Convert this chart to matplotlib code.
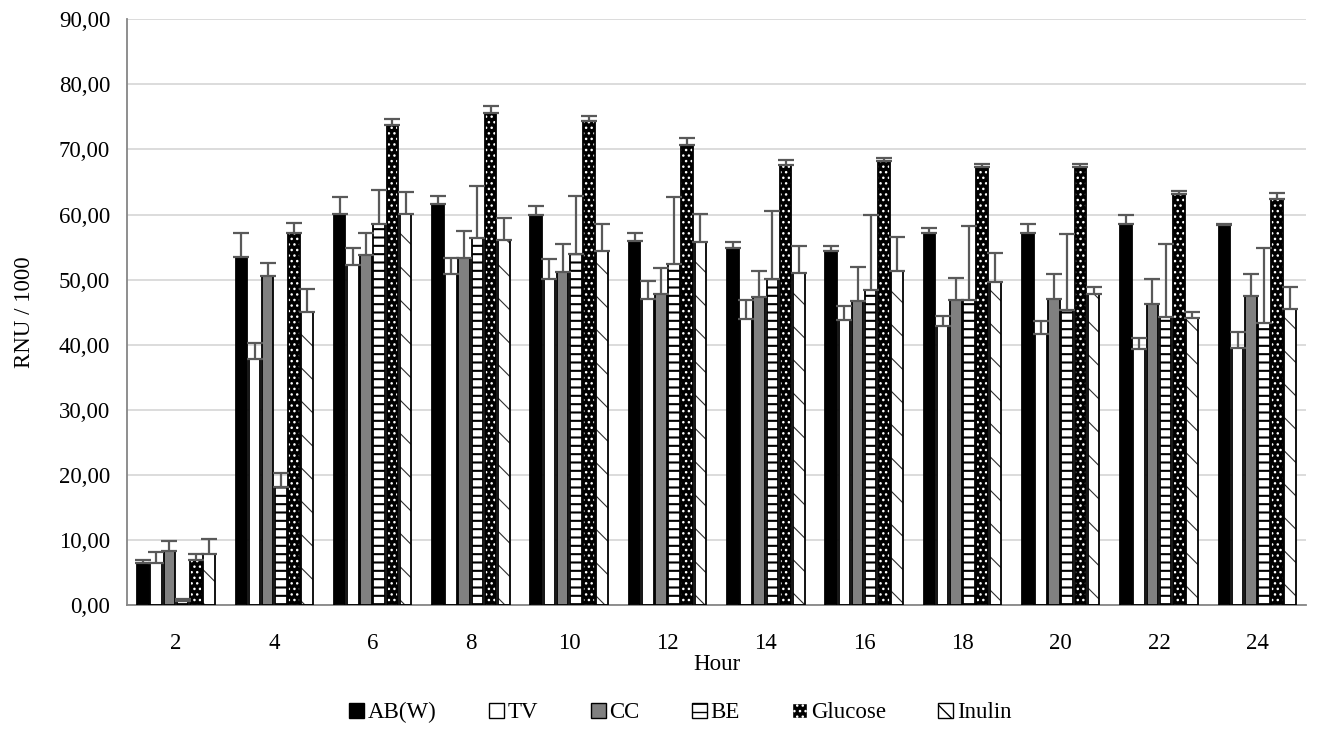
import matplotlib
matplotlib.use('Agg')
import matplotlib.pyplot as plt
import numpy as np
from matplotlib.patches import Patch

hours = [2, 4, 6, 8, 10, 12, 14, 16, 18, 20, 22, 24]
series = ['AB(W)', 'TV', 'CC', 'BE', 'Glucose', 'Inulin']

ab = [6.4, 53.5, 60.1, 61.6, 59.9, 55.9, 54.8, 54.4, 57.1, 57.2, 58.5, 58.4]
tv = [6.5, 37.8, 52.2, 50.9, 50.1, 47.0, 44.0, 43.8, 42.9, 41.6, 39.4, 39.5]
cc = [8.3, 50.6, 53.8, 53.3, 51.2, 47.8, 47.4, 46.7, 46.9, 47.0, 46.3, 47.5]
be = [0.6, 18.1, 58.6, 56.4, 53.9, 52.4, 50.1, 48.4, 46.8, 45.3, 44.2, 43.3]
glucose = [7.0, 57.1, 73.8, 75.6, 74.3, 70.7, 67.6, 68.2, 67.3, 67.3, 63.1, 62.4]
inulin = [7.9, 45.0, 60.1, 56.1, 54.4, 55.8, 51.0, 51.4, 49.7, 47.8, 44.1, 45.5]

ab_err = [0.5, 3.6, 2.6, 1.2, 1.4, 1.2, 1.0, 0.8, 0.8, 1.4, 1.5, 0.1]
tv_err = [1.7, 2.5, 2.7, 2.4, 3.0, 2.8, 2.8, 2.2, 1.5, 2.1, 1.6, 2.4]
cc_err = [1.5, 2.0, 3.4, 4.2, 4.3, 4.0, 4.0, 5.2, 3.3, 3.8, 3.8, 3.4]
be_err = [0.3, 2.2, 5.2, 8.0, 9.0, 10.3, 10.5, 11.6, 11.4, 11.7, 11.3, 11.5]
glucose_err = [0.8, 1.6, 0.8, 1.0, 0.8, 1.0, 0.8, 0.5, 0.4, 0.5, 0.5, 0.9]
inulin_err = [2.3, 3.5, 3.4, 3.4, 4.1, 4.3, 4.1, 5.1, 4.4, 1.0, 1.0, 3.4]

values = [ab, tv, cc, be, glucose, inulin]
errors = [ab_err, tv_err, cc_err, be_err, glucose_err, inulin_err]

# face, hatch, hatch colour, hatch linewidth
styles = [
    ('black', None, 'black', 1.0),
    ('white', None, 'black', 1.0),
    ('#808080', None, 'black', 1.0),
    ('white', '--', 'black', 1.5),
    ('black', '...', 'white', 1.0),
    ('white', '\\', '#303030', 0.8),
]

plt.rcParams['font.family'] = ['Liberation Serif', 'DejaVu Serif']

FS = 16.5

fig = plt.figure(figsize=(13.21, 7.38), dpi=100)
ax = fig.add_axes([0.096, 0.180, 0.893, 0.794])

x = np.arange(len(hours))
pitch = 0.134
width = 0.118
for i, (vals, errs, (face, hatch, hcol, hlw)) in enumerate(zip(values, errors, styles)):
    pos = x + (i - 2.5) * pitch
    ax.bar(pos, vals, width, color=face, edgecolor='none', zorder=2)
    if hatch is not None:
        with plt.rc_context({'hatch.linewidth': hlw}):
            hb = ax.bar(pos, vals, width, color='none', edgecolor=hcol, hatch=hatch,
                        linewidth=0, zorder=3)
        for p in hb:
            if hasattr(p, 'set_hatch_linewidth'):
                p.set_hatch_linewidth(hlw)
    ax.bar(pos, vals, width, color='none', edgecolor='black', linewidth=1.3, zorder=4)
    ax.errorbar(pos, vals, yerr=[np.zeros(len(errs)), errs], fmt='none',
                ecolor='#595959', elinewidth=1.6, capsize=6, capthick=1.6, zorder=5)

ax.set_ylim(0, 90)
ax.set_yticks(np.arange(0, 91, 10))
ax.set_yticklabels([f'{v:.2f}'.replace('.', ',') for v in np.arange(0, 91, 10)])
ax.set_xlim(-0.5, len(hours) - 0.5)
ax.set_xticks(x)
ax.set_xticklabels([str(h) for h in hours])
ax.tick_params(axis='y', labelsize=FS, length=0, pad=12)
ax.tick_params(axis='x', labelsize=FS, length=0, pad=20)
ax.grid(axis='y', color='#d9d9d9', linewidth=1.3, zorder=0)
ax.set_axisbelow(True)
for s in ['top', 'right']:
    ax.spines[s].set_visible(False)
ax.spines['left'].set_color('#868686')
ax.spines['bottom'].set_color('#868686')
ax.spines['left'].set_linewidth(1.3)
ax.spines['bottom'].set_linewidth(1.3)

ax.set_xlabel('Hour', fontsize=FS, labelpad=0)
ax.set_ylabel('RNU / 1000', fontsize=FS, labelpad=17)

handles = []
for name, (face, hatch, hcol, hlw) in zip(series, styles):
    if face == 'black' and hatch:
        handles.append(Patch(facecolor='black', edgecolor='white', hatch=hatch, label=name))
    else:
        handles.append(Patch(facecolor=face, edgecolor='black', hatch=hatch, label=name))
fig.legend(handles=handles, loc='center', bbox_to_anchor=(0.515, 0.034), ncol=6,
           frameon=False, fontsize=FS, handlelength=0.65, handleheight=0.65,
           handletextpad=0.15, columnspacing=2.3)

fig.savefig('out.png', dpi=100, facecolor='white')
